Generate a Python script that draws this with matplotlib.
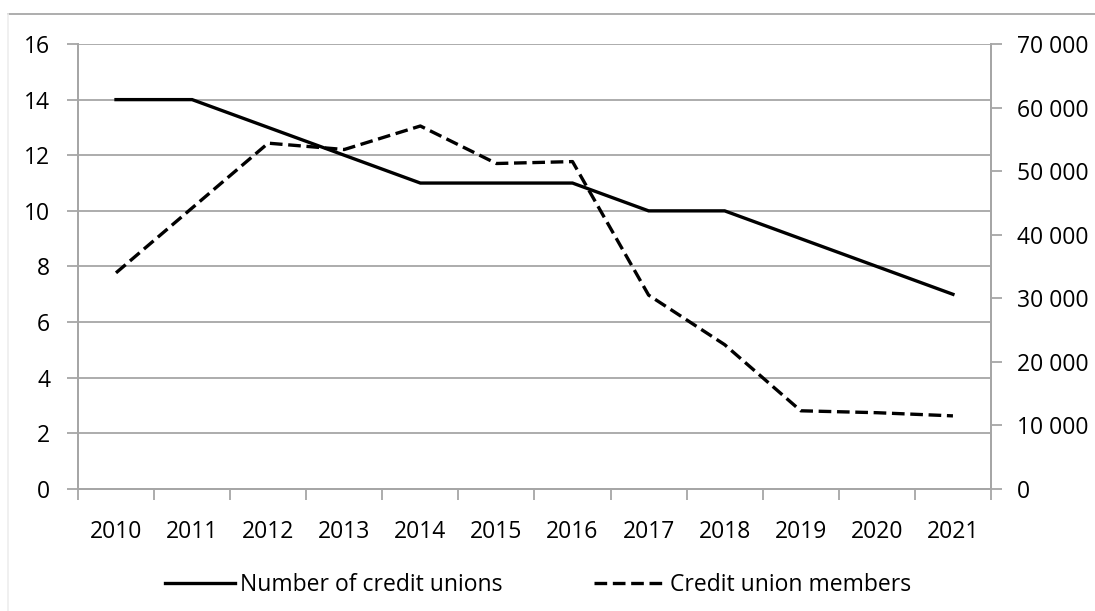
import matplotlib
matplotlib.use("Agg")
import matplotlib.pyplot as plt
from matplotlib.lines import Line2D
from matplotlib.ticker import FuncFormatter

# Credit unions: count (left axis) and membership (right axis)
years = ["2010", "2011", "2012", "2013", "2014", "2015", "2016", "2017", "2018", "2019", "2020", "2021"]
credit_unions = [14, 14, 13, 12, 11, 11, 11, 10, 10, 9, 8, 7]
members = [34000, 44200, 54400, 53400, 57100, 51200, 51500, 30500, 22700, 12300, 12000, 11500]

grid_color = "#A6A6A6"
plt.rcParams["font.family"] = ["Open Sans", "DejaVu Sans"]
plt.rcParams["font.size"] = 16.5

fig = plt.figure(figsize=(10.95, 6.11), dpi=100)
ax = fig.add_axes([0.0712, 0.1997, 0.8338, 0.7283])
ax2 = ax.twinx()

x = list(range(len(years)))
dash = (0, (3.8, 1.7))
ax.plot(x, credit_unions, color="black", lw=2.4, solid_joinstyle="miter", zorder=3)
ax2.plot(x, members, color="black", lw=2.4, linestyle=dash, zorder=3)

# left axis
ax.set_ylim(0, 16)
ax.set_yticks(range(0, 17, 2))
ax.set_xlim(-0.5, len(years) - 0.5)
ax.set_xticks([i - 0.5 for i in range(len(years) + 1)], minor=False)
ax.set_xticklabels([])
ax.set_xticks(x, minor=True)
ax.set_xticklabels(years, minor=True)
ax.tick_params(axis="x", which="major", length=8, width=1.3, color=grid_color)
ax.tick_params(axis="x", which="minor", length=0, pad=22)
ax.tick_params(axis="y", length=8, width=1.3, color=grid_color, pad=12)
ax.yaxis.grid(True, color=grid_color, lw=1.3)
ax.set_axisbelow(True)

# right axis
ax2.set_ylim(0, 70000)
ax2.set_yticks(range(0, 70001, 10000))
ax2.yaxis.set_major_formatter(FuncFormatter(lambda v, p: f"{int(v):,}".replace(",", " ")))
ax2.tick_params(axis="y", length=8, width=1.3, color=grid_color, pad=11)

for a in (ax, ax2):
    a.spines["top"].set_visible(False)
    for s in ("left", "right", "bottom"):
        a.spines[s].set_color(grid_color)
        a.spines[s].set_linewidth(1.3)

handles = [
    Line2D([], [], color="black", lw=2.4),
    Line2D([], [], color="black", lw=2.4, linestyle=dash),
]
fig.legend(handles, ["Number of credit unions", "Credit union members"],
           loc="center", bbox_to_anchor=(0.4913, 0.042), ncol=2, frameon=False,
           handlelength=3.05, handletextpad=0.25, columnspacing=4.0)

# chart border
fig.add_artist(Line2D([8 / 1095, 1.0], [1 - 14 / 611, 1 - 14 / 611], color="#A0A0A0", lw=1.2,
                      transform=fig.transFigure))
fig.add_artist(Line2D([8 / 1095, 8 / 1095], [0, 1 - 14 / 611], color="#EEEEEE", lw=1.2,
                      transform=fig.transFigure))

fig.savefig("out.png", dpi=100)
